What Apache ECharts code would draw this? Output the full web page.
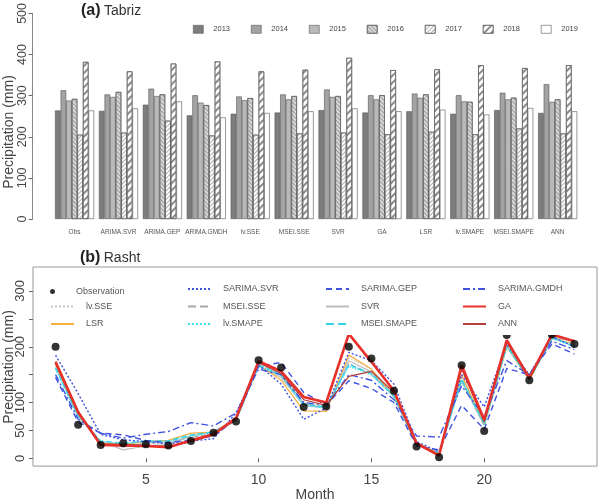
<!DOCTYPE html>
<html><head><meta charset="utf-8">
<script src="https://cdn.jsdelivr.net/npm/echarts@6/dist/echarts.min.js"></script>
<style>html,body{margin:0;padding:0;background:#fff}#c{width:600px;height:503px}</style>
</head><body><div id="c"></div>
<script>
// ---------- (a) Tabriz bars ----------
const models = ['Obs','ARIMA.SVR','ARIMA.GEP','ARIMA.GMDH','lv.SSE','MSEI.SSE','SVR','GA','LSR','lv.SMAPE','MSEI.SMAPE','ANN'];
const years = ['2013','2014','2015','2016','2017','2018','2019'];
const p2013 = [264,263,278,252,256,259,265,259,262,256,265,258];
const p2014 = [313,303,317,301,298,303,315,301,305,301,307,328];
const p2015 = [288,297,299,283,289,291,297,291,295,286,291,285];
const p2016 = [292,309,303,277,294,299,299,301,303,285,295,291];
const p2017 = [205,210,239,203,205,208,210,206,212,206,220,208];
const p2018 = [382,359,378,383,359,363,392,362,364,374,367,374];
const p2019 = [264,269,286,247,258,262,269,262,266,254,270,262];
const barTicks = [0,100,200,300,400,500];

// ---------- (b) Rasht lines ----------
const months = [1,2,3,4,5,6,7,8,9,10,11,12,13,14,15,16,17,18,19,20,21,22,23,24];
const observation = [200,60,24,27,25,23,31,46,66,176,163,92,93,200,179,121,21,2,167,49,221,140,222,205];
const sarimaSVR  = [185,116,43,33,30,26,31,35,81,167,133,70,90,190,175,133,30,12,150,92,205,150,218,200];
const sarimaGEP  = [145,65,45,42,32,28,33,40,70,165,172,118,95,139,125,100,22,15,95,52,161,150,205,187];
const sarimaGMDH = [150,70,45,36,43,48,64,58,81,160,150,100,95,150,140,105,40,38,130,75,175,150,210,195];
const lvSSE      = [170,80,28,20,25,28,38,45,68,170,150,100,92,180,160,115,25,8,145,62,205,142,218,208];
const mseiSSE    = [172,82,27,22,27,29,37,44,69,171,148,98,90,170,150,112,24,8,138,58,202,140,218,210];
const svr        = [165,75,30,15,22,25,40,48,70,165,145,95,90,175,155,110,25,10,140,60,200,145,215,212];
const ga         = [173,83,24,23,22,20,32,43,72,174,156,110,100,223,173,121,27,5,167,69,212,144,222,210];
const lsr        = [168,78,28,25,30,32,45,47,68,168,140,85,84,185,160,110,25,10,150,60,200,140,215,205];
const lvSMAPE    = [160,75,30,26,30,30,40,46,68,165,148,95,90,165,150,110,25,8,140,60,200,140,215,200];
const mseiSMAPE  = [162,76,31,27,31,31,42,47,70,167,150,97,92,168,152,112,26,9,142,62,202,142,216,202];
const ann        = [170,80,26,25,23,21,30,42,70,172,152,105,95,147,156,118,25,6,160,65,208,142,222,223];
const lineTicks = [0,50,100,150,200,250,300];
const lineLabels = [0,50,100,200,300];
const monthTicks = [5,10,15,20];

const FONT = 'Liberation Sans, Arial, sans-serif';
const BLUE = '#3f52e0';
const toPairs = arr => arr.map((v,i)=>[months[i], v]);

const barStyles = [
  {color:'#7d7d7d'},
  {color:'#a3a3a3'},
  {color:'#b9b9b9'},
  {color:'#d9d9d9', decal:{symbol:'rect',symbolSize:1,dashArrayX:[1,0],dashArrayY:[1,2],rotation:Math.PI/4,color:'#9a9a9a'}},
  {color:'#ffffff', decal:{symbol:'rect',symbolSize:1,dashArrayX:[1,0],dashArrayY:[1,2],rotation:-Math.PI/4,color:'#b0b0b0'}},
  {color:'#ffffff', decal:{symbol:'rect',symbolSize:1,dashArrayX:[1,0],dashArrayY:[2,3],rotation:-Math.PI/4,color:'#8a8a8a'}},
  {color:'#ffffff'}
];
const barData = [p2013,p2014,p2015,p2016,p2017,p2018,p2019];
const barSeries = years.map((y,i)=>({
  name:y, type:'bar', xAxisIndex:0, yAxisIndex:0, data:barData[i],
  barGap:'0%', barCategoryGap:'11%',
  itemStyle:Object.assign({borderColor:'#555', borderWidth:0.6}, barStyles[i])
}));

function ln(name, data, color, type, width){
  return {name, type:'line', xAxisIndex:1, yAxisIndex:1, data:toPairs(data), symbol:'none',
    lineStyle:{color, type, width}, itemStyle:{color}, z:3};
}
const lineSeries = [
  ln('lv.SSE', lvSSE, '#c4c4c4', 'dotted', 1.2),
  ln('MSEI.SSE', mseiSSE, '#a8a8a8', 'dashed', 1.2),
  ln('SVR', svr, '#bdbdbd', 'solid', 1.2),
  ln('LSR', lsr, '#f5b041', 'solid', 1.2),
  ln('lv.SMAPE', lvSMAPE, '#3fe0ee', 'dotted', 1.4),
  ln('MSEI.SMAPE', mseiSMAPE, '#33d4ea', 'dashed', 1.4),
  ln('SARIMA.SVR', sarimaSVR, BLUE, [2,2], 1.4),
  ln('SARIMA.GEP', sarimaGEP, BLUE, [6,4], 1.4),
  ln('SARIMA.GMDH', sarimaGMDH, BLUE, [7,3,2,3], 1.4),
  ln('ANN', ann, '#b5403a', 'solid', 1.2),
  ln('GA', ga, '#e8302a', 'solid', 2.6),
  {name:'Observation', type:'scatter', xAxisIndex:1, yAxisIndex:1, data:toPairs(observation),
   symbol:'circle', symbolSize:8, itemStyle:{color:'#000'}, z:4}
];

function colLegend(names, left, top){
  return {data:names, orient:'vertical', left, top, itemWidth:23, itemHeight:8, itemGap:5.5,
    itemStyle:{opacity:0},
    textStyle:{fontFamily:FONT, fontSize:9, color:'#555', lineHeight:12, padding:[0,0,0,7]}, z:10};
}

const option = {
  animation:false,
  backgroundColor:'#fff',
  grid:[
    {left:52.6, right:20.4, top:13, bottom:284, show:false},
    {left:33, right:3, top:267, bottom:30, show:true, borderColor:'#999', borderWidth:1}
  ],
  xAxis:[
    {type:'category', gridIndex:0, data:models, axisLine:{show:false}, axisTick:{show:false},
     axisLabel:{fontFamily:FONT, fontSize:6.5, color:'#555', interval:0, margin:10}},
    {type:'value', gridIndex:1, min:0, max:25, splitLine:{show:false},
     axisLine:{show:false},
     axisTick:{show:true, inside:false, length:4, lineStyle:{color:'#666'}, customValues:monthTicks},
     axisLabel:{fontFamily:FONT, fontSize:14, color:'#444', margin:7, customValues:monthTicks},
     name:'Month', nameLocation:'middle', nameGap:21, nameTextStyle:{fontFamily:FONT, fontSize:14, color:'#444'}}
  ],
  yAxis:[
    {type:'value', gridIndex:0, min:0, max:500, interval:100, offset:20, splitLine:{show:false},
     axisLine:{show:true, lineStyle:{color:'#888'}},
     axisTick:{show:true, length:4, lineStyle:{color:'#666'}},
     axisLabel:{fontFamily:FONT, fontSize:12.5, color:'#444', rotate:90, margin:4, customValues:barTicks}},
    {type:'value', gridIndex:1, min:-14, max:343, splitLine:{show:false},
     axisLine:{show:false},
     axisTick:{show:true, length:4, lineStyle:{color:'#666'}, customValues:lineTicks},
     axisLabel:{fontFamily:FONT, fontSize:13, color:'#444', rotate:90, margin:6, customValues:lineLabels}}
  ],
  legend:[
    {data:years, orient:'horizontal', left:188, top:20, itemWidth:10, itemHeight:8, itemGap:21, icon:'rect',
     itemStyle:{borderWidth:0.6, borderColor:'#555'},
     textStyle:{fontFamily:FONT, fontSize:7.5, color:'#444', padding:[0,0,0,5]}},
    {data:['Observation'], orient:'vertical', left:45, top:280.5, itemWidth:23, itemHeight:5,
     textStyle:{fontFamily:FONT, fontSize:9, color:'#555', lineHeight:12, padding:[0,0,0,7]}, z:10},
    colLegend(['lv.SSE','LSR'], 45, 295.5),
    colLegend(['SARIMA.SVR','MSEI.SSE','lv.SMAPE'], 182, 278),
    colLegend(['SARIMA.GEP','SVR','MSEI.SMAPE'], 320, 278),
    colLegend(['SARIMA.GMDH','GA','ANN'], 457, 278)
  ],
  graphic:[
    {type:'rect', shape:{x:34, y:268, width:562, height:67}, style:{fill:'#fff'}, z:5, silent:true},
    {type:'text', x:9, y:132, rotation:Math.PI/2, style:{text:'Precipitation (mm)', font:'14px '+FONT, fill:'#444', textAlign:'center', textVerticalAlign:'middle'}},
    {type:'text', x:9, y:367, rotation:Math.PI/2, style:{text:'Precipitation (mm)', font:'14px '+FONT, fill:'#444', textAlign:'center', textVerticalAlign:'middle'}},
    {type:'text', left:81, top:3, style:{text:'{b|(a)} {n|Tabriz}', rich:{b:{fontFamily:FONT, fontSize:16, fontWeight:'bold', fill:'#222'}, n:{fontFamily:FONT, fontSize:14, fill:'#333'}}}},
    {type:'text', left:80, top:250, style:{text:'{b|(b)} {n|Rasht}', rich:{b:{fontFamily:FONT, fontSize:16, fontWeight:'bold', fill:'#222'}, n:{fontFamily:FONT, fontSize:14, fill:'#333'}}}}
  ],
  series: barSeries.concat(lineSeries)
};
const chart = echarts.init(document.getElementById('c'), null, {renderer:'canvas'});
chart.setOption(option);
</script></body></html>
